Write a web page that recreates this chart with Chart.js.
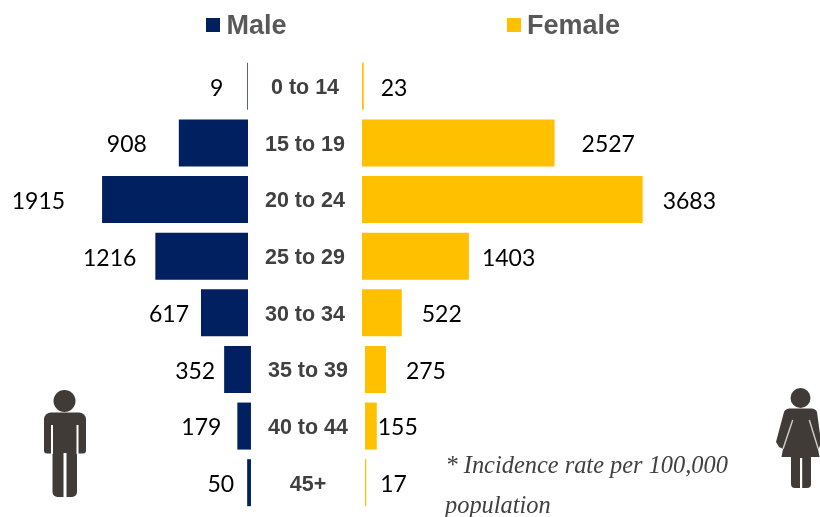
<!DOCTYPE html>
<html>
<head>
<meta charset="utf-8">
<style>
html,body{margin:0;padding:0;background:#fff;overflow:hidden}
#wrap{position:relative;width:820px;height:517px}
canvas{display:block}
</style>
<script src="https://cdn.jsdelivr.net/npm/chart.js@4/dist/chart.umd.min.js"></script>
</head>
<body>
<div id="wrap"><canvas id="c" width="820" height="517"></canvas></div>
<script>
const categories = ["0 to 14","15 to 19","20 to 24","25 to 29","30 to 34","35 to 39","40 to 44","45+"];
const maleValues = [9,908,1915,1216,617,352,179,50];
const femaleValues = [23,2527,3683,1403,522,275,155,17];
const seriesNames = ["Male","Female"];
const footnoteLines = ["* Incidence rate per 100,000","population"];

// Layout / style (not data)
const NAVY = "#00205f", GOLD = "#ffc000", ICON = "#403b37";
const W = 820, PX_PER_UNIT = 0.0762, MALE_ZERO = 248, FEMALE_ZERO = 362;
const rowShift = [0,0,0,0,0,39,39,39];           // base-line offset of lower rows, in axis units
const maleGap = [24,32,37,19,12,9,16,13];        // px between bar end and its label
const femaleGap = [17,27,20,13,20,20,1,14];

const LABEL_FONT = '23px Lato, "Open Sans", sans-serif';
const CAT_FONT = 'bold 21.5px "Liberation Sans", Arial, sans-serif';
const LEGEND_FONT = 'bold 27px "Liberation Sans", Arial, sans-serif';
const NOTE_FONT = 'italic 24.4px "Liberation Serif", serif';

function drawMan(ctx){
  ctx.fillStyle = ICON;
  ctx.beginPath(); ctx.arc(64.5,401,11,0,Math.PI*2); ctx.fill();
  ctx.beginPath(); ctx.roundRect(44,412.5,42,41,[7,7,3,3]); ctx.fill();
  ctx.beginPath(); ctx.roundRect(52.5,440,24.5,57,[0,0,5,5]); ctx.fill();
  ctx.fillStyle = "#fff";
  ctx.fillRect(51,425,2,29);
  ctx.fillRect(76.5,425,2,29);
  ctx.fillRect(63.5,453,3,45);
}
function drawWoman(ctx){
  ctx.fillStyle = ICON;
  ctx.beginPath(); ctx.arc(800.5,398,10,0,Math.PI*2); ctx.fill();
  ctx.beginPath();
  ctx.moveTo(789,408.5); ctx.lineTo(812,408.5);
  ctx.quadraticCurveTo(816,409,817,412);
  ctx.lineTo(821,442); ctx.lineTo(819.5,447);
  ctx.lineTo(818,449); ctx.lineTo(819.5,457);
  ctx.lineTo(781.5,457); ctx.lineTo(783,449);
  ctx.lineTo(779,447); ctx.lineTo(776,442);
  ctx.lineTo(784,412);
  ctx.quadraticCurveTo(785,409,789,408.5);
  ctx.closePath(); ctx.fill();
  ctx.beginPath(); ctx.roundRect(791,455,20,33,[0,0,4,4]); ctx.fill();
  ctx.strokeStyle = "#cfcdcb"; ctx.lineWidth = 1.4;
  ctx.beginPath(); ctx.moveTo(792.7,420); ctx.lineTo(783,449); ctx.stroke();
  ctx.beginPath(); ctx.moveTo(809.3,420); ctx.lineTo(818.3,449); ctx.stroke();
  ctx.fillStyle = "#fff";
  ctx.fillRect(800,458,2.2,31);
}

const decorations = {
  id: "decorations",
  afterDatasetsDraw(chart){
    const {ctx, scales:{y, xMale, xFemale}} = chart;
    ctx.save();
    ctx.textBaseline = "middle";
    categories.forEach((cat,i)=>{
      const py = y.getPixelForValue(i);
      const mBase = xMale.getPixelForValue(-rowShift[i]);
      const fBase = xFemale.getPixelForValue(rowShift[i]);
      ctx.font = CAT_FONT; ctx.fillStyle = "#404040"; ctx.textAlign = "center";
      ctx.fillText(cat,(mBase+fBase)/2,py+2);
      ctx.font = LABEL_FONT; ctx.fillStyle = "#000";
      ctx.textAlign = "right";
      ctx.fillText(String(maleValues[i]),xMale.getPixelForValue(maleValues[i]-rowShift[i])-maleGap[i],py+2);
      ctx.textAlign = "left";
      ctx.fillText(String(femaleValues[i]),xFemale.getPixelForValue(femaleValues[i]+rowShift[i])+femaleGap[i],py+2);
    });
    // legend
    ctx.textAlign = "left";
    ctx.font = LEGEND_FONT; ctx.fillStyle = "#595959";
    ctx.fillText(seriesNames[0],226.5,26.5);
    ctx.fillText(seriesNames[1],527,26.5);
    ctx.fillStyle = NAVY; ctx.fillRect(206,18,14,14);
    ctx.fillStyle = GOLD; ctx.fillRect(507,18,14,14);
    // footnote
    ctx.font = NOTE_FONT; ctx.fillStyle = "#404040";
    ctx.fillText(footnoteLines[0],445.5,467);
    ctx.fillText(footnoteLines[1],445,506.5);
    drawMan(ctx);
    drawWoman(ctx);
    ctx.restore();
  }
};

new Chart(document.getElementById("c"),{
  type:"bar",
  data:{
    labels:categories,
    datasets:[
      {label:seriesNames[0],xAxisID:"xMale",backgroundColor:NAVY,
       data:maleValues.map((v,i)=>[-rowShift[i],v-rowShift[i]])},
      {label:seriesNames[1],xAxisID:"xFemale",backgroundColor:GOLD,
       data:femaleValues.map((v,i)=>[rowShift[i],v+rowShift[i]])}
    ]
  },
  options:{
    indexAxis:"y",
    responsive:false,
    animation:false,
    devicePixelRatio:1,
    layout:{padding:{top:58,bottom:6,left:0,right:0}},
    plugins:{legend:{display:false},tooltip:{enabled:false},title:{display:false}},
    datasets:{bar:{grouped:false,barPercentage:0.83,categoryPercentage:1,borderWidth:0}},
    scales:{
      y:{type:"category",display:false,offset:true,grid:{display:false}},
      xMale:{type:"linear",display:false,reverse:true,axis:"x",
        min:-(W-MALE_ZERO)/PX_PER_UNIT,max:MALE_ZERO/PX_PER_UNIT,grid:{display:false}},
      xFemale:{type:"linear",display:false,axis:"x",
        min:-FEMALE_ZERO/PX_PER_UNIT,max:(W-FEMALE_ZERO)/PX_PER_UNIT,grid:{display:false}}
    }
  },
  plugins:[decorations]
});
</script>
</body>
</html>
